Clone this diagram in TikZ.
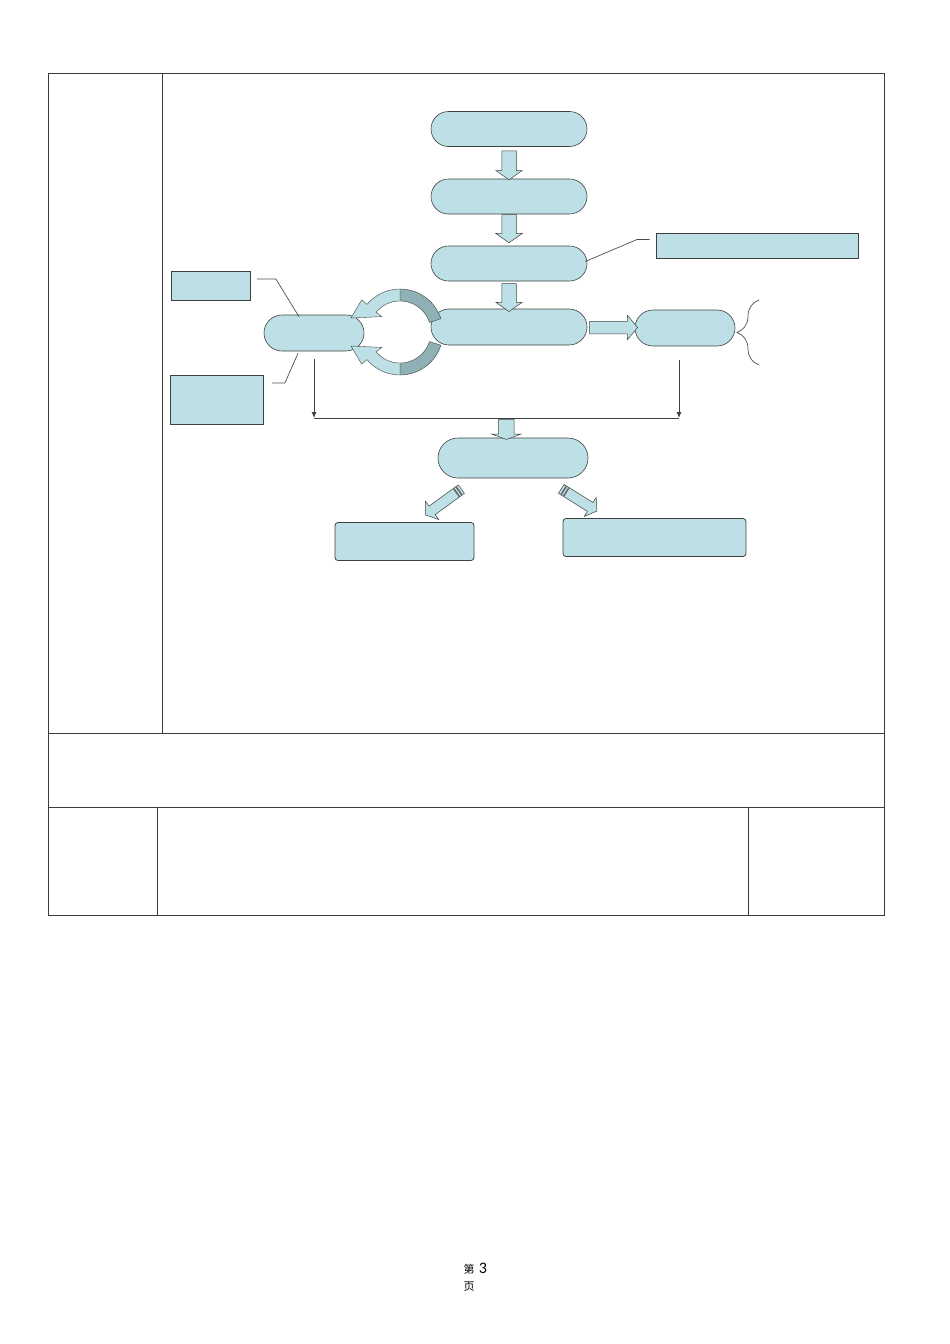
\documentclass[tikz,border=0pt]{standalone}
\usepackage{fontspec}
\newfontfamily\cjk{Noto Sans CJK SC}
\newfontfamily\numfont{Carlito}
\usetikzlibrary{shapes.misc,shapes.arrows,calc,arrows.meta,decorations.pathreplacing}
\definecolor{boxblue}{HTML}{BCE0E6}
\definecolor{bandgray}{HTML}{8DB1B5}
\definecolor{edgegray}{HTML}{404040}
\definecolor{linegray}{HTML}{3C3C3C}
\begin{document}
\begin{tikzpicture}[x=1pt,y=-1pt,
        pill/.style={rounded rectangle,draw=edgegray,fill=boxblue,line width=0.6pt,inner sep=0pt,minimum height=35pt},
        plainbox/.style={rectangle,draw=edgegray,fill=boxblue,line width=0.8pt,inner sep=0pt},
        roundbox/.style={plainbox,rounded corners=3pt},
        blockarrow/.style={single arrow,draw=edgegray,fill=boxblue,line width=0.5pt,inner xsep=0pt,
            inner ysep=7pt,single arrow head extend=6pt,single arrow tip angle=110},
        callout/.style={draw=gray!60!black,line width=0.7pt},
        feed/.style={draw=gray!50!black,line width=0.8pt},
        tablerule/.style={draw=linegray,line width=1pt}]
        \useasboundingbox (0,0) rectangle (950,1344);
        \def\cx{400} \def\cy{332}
        \def\ro{43} \def\ri{31}

        \draw[tablerule] (48,73) rectangle (884,915);
        \draw[tablerule] (162,73) -- (162,733);
        \draw[tablerule] (48,733) -- (884,733);
        \draw[tablerule] (48,807) -- (884,807);
        \draw[tablerule] (157,807) -- (157,915);
        \draw[tablerule] (748,807) -- (748,915);

        \node (p1) at (509,129) [pill,minimum width=156pt] {};
        \node (p2) at (509,196.5) [pill,minimum width=156pt] {};
        \node (p3) at (509,263.5) [pill,minimum width=156pt] {};
        \node (p4) at (509,327) [pill,minimum width=156pt,minimum height=36pt] {};
        \node (p5) at (685,328) [pill,minimum width=100pt,minimum height=36pt] {};
        \node (pl) at (314,333) [pill,minimum width=100pt,minimum height=36pt] {};
        \node (p6) at (513,458) [pill,minimum width=150pt,minimum height=40pt] {};

        \node (ra) at (211,286) [plainbox,minimum width=79pt,minimum height=29pt] {};
        \node (rb) at (217,400) [plainbox,minimum width=93pt,minimum height=49pt] {};
        \node (rc) at (757,246) [plainbox,minimum width=202pt,minimum height=25pt] {};
        \node (bl) at (404.5,541.5) [roundbox,minimum width=139pt,minimum height=38pt] {};
        \node (br) at (654.5,537.5) [roundbox,minimum width=183pt,minimum height=38pt] {};

        \node (a1) at ($(p1.south)!0.5!(p2.north)$) [blockarrow,rotate=-90,minimum height=29pt] {};
        \node (a2) at ($(p2.north)!0.5!(p3.north)+(0,14)$) [blockarrow,rotate=-90,minimum height=28pt] {};
        \node (a3) at ($(p3.south)!0.5!(p4.north)$) [blockarrow,rotate=-90,minimum height=28pt] {};
        \node (a4) at ($(p4.east)!0.5!(p5.west)$) [blockarrow,inner ysep=6pt,single arrow tip angle=100,minimum height=48pt] {};

        \draw[callout] ($(ra.east)+(6,-7)$) -- ++(19,0) -- ($(pl.north)+(-15,2)$);
        \draw[callout] ($(rb.east)+(8,-17)$) -- ++(13,0) -- ($(pl.south)+(-16,2)$);
        \draw[callout] ($(p3.east)+(-2,-2)$) -- (637,239.5) -- ($(rc.west)+(-6,-6.5)$);
        \draw[callout,decorate,decoration={brace,amplitude=22pt}] (759,365) -- (759,300);

        \fill[bandgray,draw=edgegray,line width=0.4pt]
        plot[domain=-18:-90,samples=20] ({\cx+\ro*cos(\x)},{\cy+\ro*sin(\x)})
        -- plot[domain=-90:-18,samples=20] ({\cx+\ri*cos(\x)},{\cy+\ri*sin(\x)})
        -- cycle;
        \fill[boxblue,draw=edgegray,line width=0.4pt]
        plot[domain=-90:-140,samples=20] ({\cx+\ro*cos(\x)},{\cy+\ro*sin(\x)})
        -- (361.7,299.9) -- (351,318) -- (381.6,316.6)
        -- plot[domain=-140:-90,samples=20] ({\cx+\ri*cos(\x)},{\cy+\ri*sin(\x)})
        -- cycle;

        \fill[bandgray,draw=edgegray,line width=0.4pt]
        plot[domain=18:90,samples=20] ({\cx+\ro*cos(\x)},{\cy+\ro*sin(\x)})
        -- plot[domain=90:18,samples=20] ({\cx+\ri*cos(\x)},{\cy+\ri*sin(\x)})
        -- cycle;
        \fill[boxblue,draw=edgegray,line width=0.4pt]
        plot[domain=90:140,samples=20] ({\cx+\ro*cos(\x)},{\cy+\ro*sin(\x)})
        -- (361.7,364.1) -- (351,346) -- (381.6,347.4)
        -- plot[domain=140:90,samples=20] ({\cx+\ri*cos(\x)},{\cy+\ri*sin(\x)})
        -- cycle;

        \coordinate (jl) at (314,418);
        \coordinate (jr) at (679,418);
        \draw[feed,-{Latex[length=6pt,width=5pt]}] ($(pl.south)+(0,8)$) -- (jl);
        \draw[feed] (jl) -- (jr);
        \draw[feed,-{Latex[length=6pt,width=5pt]}] ($(p5.south)+(-6,14)$) -- (jr);

        \node (a5) at ($(jl)!0.527!(jr)+(0,10)$) [blockarrow,rotate=-90,inner ysep=7.5pt,
            single arrow head extend=7pt,single arrow tip angle=140,minimum height=20pt] {};

        \node (a6) at (445,501) [blockarrow,rotate=-144,inner ysep=5pt,minimum height=44pt] {};
        \node (a7) at (577.5,499) [blockarrow,rotate=-32,inner ysep=5pt,minimum height=42pt] {};
        \begin{scope}[shift={(a6.center)},rotate=-144]
        \fill[edgegray!80] (-18,-5) rectangle (-16.5,5);
        \fill[edgegray!80] (-15,-5) rectangle (-13.5,5);
        \end{scope}
        \begin{scope}[shift={(a7.center)},rotate=-32]
        \fill[edgegray!80] (-17,-5) rectangle (-15.5,5);
        \fill[edgegray!80] (-14,-5) rectangle (-12.5,5);
        \end{scope}

        \node (pg1) at (469,1269) [inner sep=0pt,font=\cjk\fontsize{11}{11}\selectfont] {第};
        \node (pg2) at (483,1268) [inner sep=0pt,font=\numfont\fontsize{16}{16}\selectfont] {3};
        \node (pg3) at (469,1287) [inner sep=0pt,font=\cjk\fontsize{11}{11}\selectfont] {页};
        \end{tikzpicture}
\end{document}
